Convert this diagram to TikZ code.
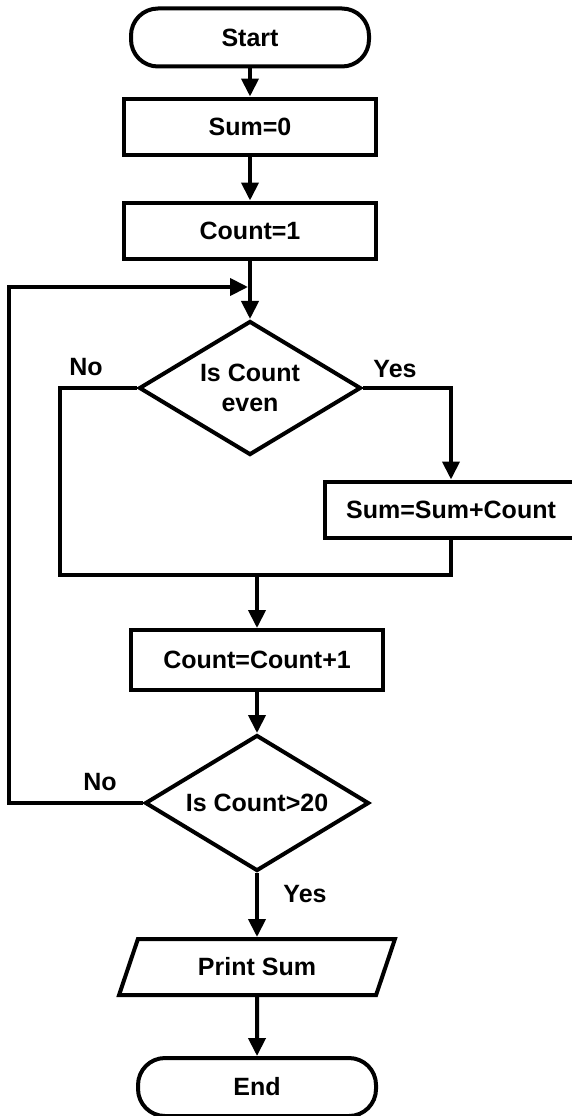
\documentclass[tikz,border=0pt]{standalone}
\usepackage{fontspec}
\setmainfont{Liberation Sans}
\usetikzlibrary{shapes.geometric}
\usetikzlibrary{arrows.meta}
\usetikzlibrary{positioning}

\begin{document}
\begin{tikzpicture}[x=1pt,y=-1pt,line width=4pt,
  every node/.style={font=\fontsize{25}{30}\selectfont\bfseries,inner sep=0pt},
  box/.style={draw,rectangle,minimum width=252pt,minimum height=56pt},
  term/.style={draw,rectangle,rounded corners=27pt,minimum width=238pt,minimum height=58pt},
  cond/.style={draw,diamond,aspect=1.65,align=center,minimum width=222pt,minimum height=134pt},
  io/.style={draw,trapezium,trapezium left angle=63,trapezium right angle=117,trapezium stretches=true,minimum width=276pt,minimum height=56pt},
  arr/.style={-{Triangle[length=18pt,width=17pt]}}]
  \useasboundingbox (0,0) rectangle (572,1116);
  \node[term] (start) at (250,37.5) {Start};
  \node[box,below=28pt of start] (sum) {Sum=0};
  \node[box,below=44pt of sum] (count) {Count=1};
  \node[cond] (even) at (250,388) {Is Count\\even};
  \node[box] (add) at (451,509.5) {Sum=Sum+Count};
  \node[box,minimum height=60pt] (inc) at (257,660) {Count=Count+1};
  \node[cond,minimum width=224pt,minimum height=136pt] (big) at (257,803) {Is Count>20};
  \node[io] (print) at (257,967) {Print Sum};
  \node[term,below=59pt of print] (end) {End};
  \node (noeven) at (86,367) {No};
  \node (yeseven) at (395,369) {Yes};
  \node (nobig) at (100,782) {No};
  \node (yesbig) at (305,894) {Yes};
  \coordinate (noleft) at (59.5,575);
  \coordinate (merge) at (257,575);
  \coordinate (looptop) at (9,287);
  \coordinate (loopin) at (248,287);
  \draw[arr](start)--(sum);
  \draw[arr](sum)--(count);
  \draw[arr](count)--(even);
  \draw[arr](even.east)-|(add.north);
  \draw(even.west)-|(noleft)--(merge);
  \draw(add.south)|-(merge);
  \draw[arr](merge)--(inc);
  \draw[arr](inc)--(big);
  \draw[arr](big.west)-|(looptop)--(loopin);
  \draw[arr](big)--(print);
  \draw[arr](print)--(end);
\end{tikzpicture}
\end{document}
